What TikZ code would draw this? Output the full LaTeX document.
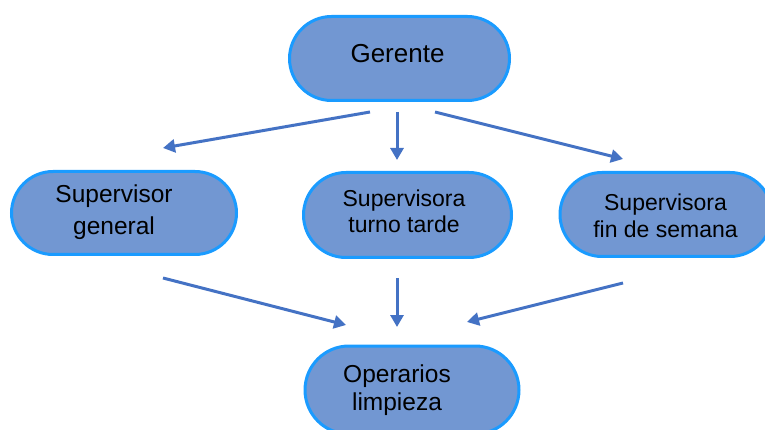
\documentclass[tikz,border=0pt]{standalone}
\usepackage{fontspec}
\setmainfont{Liberation Sans}
\usetikzlibrary{arrows.meta}
\definecolor{pillfill}{HTML}{7297D2}
\definecolor{pillline}{HTML}{1A9BFF}
\definecolor{arrowc}{HTML}{4472C4}
\begin{document}
\begin{tikzpicture}[x=1pt,y=-1pt,
  pill/.style={draw=pillline, fill=pillfill, line width=3pt, inner sep=0pt},
  lbl/.style={align=center, anchor=base, text=black, inner sep=0pt},
  conn/.style={draw=arrowc, line width=3pt, -{Triangle[length=12pt,width=13pt]}}]
\useasboundingbox (0,0) rectangle (765,430);
\clip (0,0) rectangle (765,430);
% boxes
\node[pill, minimum width=220pt, minimum height=84pt, rounded corners=42pt] (ger) at (399.5,58.5) {};
\node[pill, minimum width=225pt, minimum height=83pt, rounded corners=41.5pt] (sg) at (124,213) {};
\node[pill, minimum width=208pt, minimum height=85pt, rounded corners=42.5pt] (st) at (407.5,215) {};
\node[pill, minimum width=212pt, minimum height=84pt, rounded corners=42pt] (sf) at (666,214.5) {};
\node[pill, minimum width=214pt, minimum height=88pt, rounded corners=44pt] (op) at (412,390) {};
% texts
\node[lbl, font=\fontsize{26}{30}\selectfont] (gerT) at (397.5,63) {Gerente};
\node[lbl, font=\fontsize{24.5}{32}\selectfont] (sgT) at (114,235) {Supervisor\\general};
\node[lbl, font=\fontsize{23}{26}\selectfont] (stT) at (404,233) {Supervisora\\turno tarde};
\node[lbl, font=\fontsize{23}{27}\selectfont] (sfT) at (665.5,237) {Supervisora\\fin de semana};
\node[lbl, font=\fontsize{24.5}{28}\selectfont] (opT) at (397,410) {Operarios\\limpieza};
% connector ends
\coordinate (g1) at (370,112);
\coordinate (g2) at (397,112);
\coordinate (g3) at (435,112);
\coordinate (sgin) at (163,148);
\coordinate (stin) at (397,160);
\coordinate (sfin) at (623,159);
\coordinate (sgout) at (163,278);
\coordinate (stout) at (397,278);
\coordinate (sfout) at (623,283);
\coordinate (op1) at (346,325);
\coordinate (op2) at (397,327);
\coordinate (op3) at (467,322);
% connectors
\draw[conn] (g1) -- (sgin);
\draw[conn] (g2) -- (stin);
\draw[conn] (g3) -- (sfin);
\draw[conn] (sgout) -- (op1);
\draw[conn] (stout) -- (op2);
\draw[conn] (sfout) -- (op3);
\end{tikzpicture}
\end{document}
